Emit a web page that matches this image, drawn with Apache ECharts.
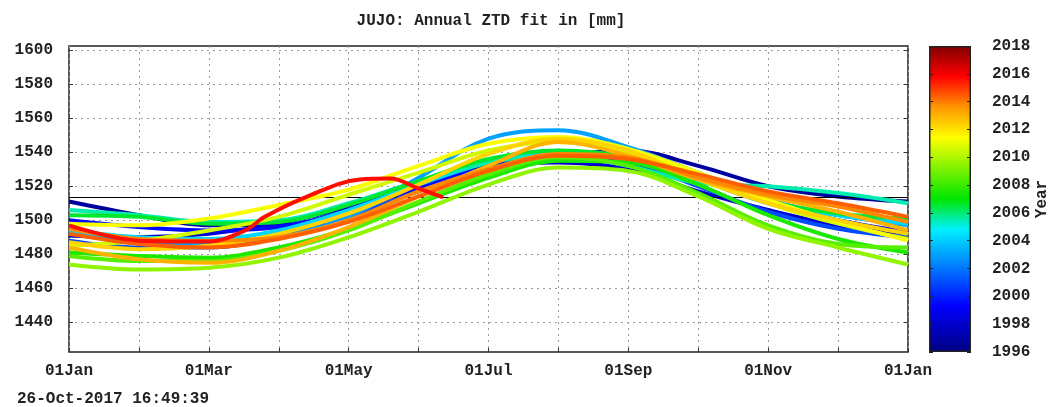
<!DOCTYPE html>
<html>
<head>
<meta charset="utf-8">
<script src="https://cdn.jsdelivr.net/npm/echarts@6/dist/echarts.min.js"></script>
<style>
  html, body { margin: 0; padding: 0; background: #fff; }
  #chart { width: 1051px; height: 407px; }
</style>
</head>
<body>
<div id="chart"></div>
<script>
// x axis: months of the year (0 = 01Jan ... 12 = 01Jan next year)
const monthLabels = ['01Jan', '01Feb', '01Mar', '01Apr', '01May', '01Jun', '01Jul',
  '01Aug', '01Sep', '01Oct', '01Nov', '01Dec', '01Jan'];
const yTicks = [1440, 1460, 1480, 1500, 1520, 1540, 1560, 1580, 1600];
const yearTicks = [1996, 1998, 2000, 2002, 2004, 2006, 2008, 2010, 2012, 2014, 2016, 2018];
const meanZtd = 1513.5;

// annual fits, one value per first-of-month
const ztd1997 = [1511, 1503, 1497, 1497, 1506, 1520, 1532, 1538, 1541, 1532, 1520, 1514, 1511];
const ztd1998 = [1491, 1490, 1492, 1498, 1508, 1522, 1533, 1534, 1530, 1517, 1506, 1497, 1492];
const ztd1999 = [1500, 1496, 1494, 1496, 1505, 1519, 1531, 1537, 1536, 1524, 1510, 1500, 1493];
const ztd2001 = [1488, 1484, 1484, 1490, 1502, 1517, 1530, 1537, 1534, 1520, 1505, 1495, 1490];
const ztd2003 = [1493, 1488, 1486, 1490, 1502, 1525, 1548, 1553, 1543, 1528, 1512, 1503, 1497];
const ztd2004 = [1494, 1490, 1489, 1494, 1506, 1521, 1534, 1540, 1537, 1524, 1510, 1503, 1498];
const ztd2005 = [1506, 1503, 1499, 1500, 1510, 1523, 1534, 1538, 1532, 1522, 1520, 1516, 1510];
const ztd2006 = [1503, 1502, 1498, 1499, 1509, 1523, 1536, 1541, 1537, 1524, 1511, 1504, 1501];
const ztd2007 = [1481, 1479, 1478, 1484, 1495, 1510, 1525, 1535, 1534, 1521, 1503, 1489, 1481];
const ztd2008 = [1479, 1476, 1476, 1482, 1494, 1511, 1527, 1537, 1532, 1516, 1497, 1486, 1484];
const ztd2009 = [1474, 1471, 1472, 1478, 1490, 1505, 1521, 1531, 1529, 1514, 1495, 1484, 1474];
const ztd2010 = [1485, 1488, 1494, 1502, 1515, 1528, 1541, 1546, 1540, 1526, 1510, 1498, 1489];
const ztd2011 = [1498, 1497, 1501, 1509, 1518, 1532, 1545, 1549, 1542, 1528, 1512, 1499, 1488];
const ztd2012 = [1487, 1483, 1485, 1492, 1504, 1521, 1539, 1548, 1541, 1524, 1510, 1500, 1492];
const ztd2013 = [1484, 1477, 1475, 1482, 1496, 1514, 1532, 1546, 1538, 1524, 1514, 1505, 1494];
const ztd2014 = [1495, 1489, 1488, 1490, 1500, 1517, 1530, 1539, 1537, 1525, 1515, 1508, 1499];
const ztd2015 = [1492, 1486, 1484, 1489, 1499, 1514, 1529, 1538, 1536, 1527, 1517, 1510, 1502];
// 2017 is only partial (until mid June)
const months2017 = [0, 1, 2, 2.52, 2.8, 3.38, 4.16, 4.6, 4.98, 5.35];
const ztd2017 = [1497, 1488, 1487.5, 1494, 1502, 1513.5, 1524, 1524.5, 1519, 1513.5];

const fits = [
  { year: 1996.8, values: ztd1997 },
  { year: 1998.0, values: ztd1998 },
  { year: 1999.5, values: ztd1999 },
  { year: 2001.0, values: ztd2001 },
  { year: 2003.0, values: ztd2003 },
  { year: 2004.2, values: ztd2004 },
  { year: 2005.5, values: ztd2005 },
  { year: 2006.6, values: ztd2006 },
  { year: 2007.5, values: ztd2007 },
  { year: 2008.5, values: ztd2008 },
  { year: 2009.5, values: ztd2009 },
  { year: 2010.6, values: ztd2010 },
  { year: 2011.3, values: ztd2011 },
  { year: 2012.3, values: ztd2012 },
  { year: 2013.0, values: ztd2013 },
  { year: 2013.8, values: ztd2014 },
  { year: 2014.4, values: ztd2015 },
];
const year2017 = 2015.6;

// jet-like colour scale used for the Year colour bar
const jetStops = [
  [0.00, [0, 0, 128]],
  [0.15, [0, 0, 255]],
  [0.40, [0, 240, 255]],
  [0.50, [0, 230, 0]],
  [0.70, [255, 255, 0]],
  [0.80, [255, 150, 0]],
  [0.90, [255, 0, 0]],
  [1.00, [128, 0, 0]],
];
const rgb = (c) => 'rgb(' + c.join(',') + ')';
function jet(t) {
  t = Math.max(0, Math.min(1, t));
  for (let i = 1; i < jetStops.length; i++) {
    const [t1, c1] = jetStops[i];
    const [t0, c0] = jetStops[i - 1];
    if (t <= t1) {
      const f = (t - t0) / (t1 - t0);
      return rgb(c0.map((v, k) => Math.round(v + (c1[k] - v) * f)));
    }
  }
  return rgb(jetStops[jetStops.length - 1][1]);
}
const yearMin = 1996, yearMax = 2018;
const yearColor = (y) => jet((y - yearMin) / (yearMax - yearMin));

const monoFont = 'Liberation Mono';
const textStyle = { fontFamily: monoFont, fontSize: 16, fontWeight: 'bold', color: '#222' };

const series = fits.map((f, i) => ({
  type: 'line',
  data: f.values.map((v, m) => [m, v]),
  smooth: 0.35,
  showSymbol: false,
  silent: true,
  z: 2 + i,
  lineStyle: { width: 4, color: yearColor(f.year), cap: 'butt' },
}));
series.push({
  type: 'line',
  data: months2017.map((m, i) => [m, ztd2017[i]]),
  smooth: 0.35,
  showSymbol: false,
  silent: true,
  z: 30,
  lineStyle: { width: 4, color: yearColor(year2017) },
});
// mean line
series.push({
  type: 'line',
  data: [],
  silent: true,
  z: 40,
  markLine: {
    silent: true,
    symbol: 'none',
    label: { show: false },
    lineStyle: { color: '#000', width: 1, type: 'solid' },
    data: [{ yAxis: meanZtd }],
  },
});
// colour bar: transparent base up to yearMin, gradient bar up to yearMax
series.push({
  type: 'bar', xAxisIndex: 1, yAxisIndex: 2, stack: 'cbar', barWidth: '100%', silent: true,
  data: [yearMin], itemStyle: { color: 'transparent' },
});
series.push({
  type: 'bar', xAxisIndex: 1, yAxisIndex: 2, stack: 'cbar', barWidth: '100%', silent: true,
  data: [yearMax - yearMin],
  itemStyle: {
    borderColor: '#222', borderWidth: 1.5,
    color: new echarts.graphic.LinearGradient(0, 1, 0, 0,
      jetStops.map(([t, c]) => ({ offset: t, color: rgb(c) }))),
  },
});

const chart = echarts.init(document.getElementById('chart'));
chart.setOption({
  animation: false,
  backgroundColor: '#fff',
  title: [
    {
      text: 'JUJO: Annual ZTD fit in [mm]',
      left: 486, top: 8, textAlign: 'center',
      textStyle: { ...textStyle },
    },
    {
      text: '26-Oct-2017 16:49:39',
      left: 12, top: 386,
      textStyle: { ...textStyle },
    },
  ],
  grid: [
    { left: 69, right: 143, top: 46, bottom: 55, show: true, borderColor: '#222', borderWidth: 1.5, outerBoundsMode: 'none' },
    { left: 929, width: 42, top: 46, bottom: 55, show: false, outerBoundsMode: 'none' },
  ],
  xAxis: [
    {
      type: 'value', gridIndex: 0, min: 0, max: 12, interval: 1,
      axisLine: { show: false },
      axisTick: { show: true, inside: true, length: 4, lineStyle: { color: '#333' } },
      axisLabel: {
        ...textStyle, margin: 11,
        formatter: (v) => (v % 2 === 0 ? monthLabels[v] : ''),
      },
      splitLine: { show: true, lineStyle: { color: '#999', type: [2, 4], width: 1 } },
    },
    {
      type: 'category', gridIndex: 1, data: ['Year'], show: false,
    },
  ],
  yAxis: [
    {
      type: 'value', gridIndex: 0, min: 1422.5, max: 1602.5,
      axisLine: { show: false },
      axisTick: { show: true, inside: true, length: 4, customValues: yTicks, lineStyle: { color: '#333' } },
      axisLabel: { ...textStyle, margin: 16, customValues: yTicks, formatter: (v) => String(v) },
      splitLine: { show: true, lineStyle: { color: '#999', type: [2, 4], width: 1 } },
    },
    {
      type: 'value', gridIndex: 0, min: 1422.5, max: 1602.5, position: 'right',
      axisLine: { show: false },
      axisTick: { show: true, inside: true, length: 4, customValues: yTicks, lineStyle: { color: '#333' } },
      axisLabel: { show: false },
      splitLine: { show: false },
    },
    {
      type: 'value', gridIndex: 1, min: yearMin, max: yearMax, position: 'right',
      name: 'Year', nameLocation: 'middle', nameGap: 62, nameRotate: 90,
      nameTextStyle: { ...textStyle },
      axisLine: { show: false },
      axisTick: { show: true, inside: true, length: 4, customValues: yearTicks, lineStyle: { color: '#222' } },
      axisLabel: { ...textStyle, margin: 21, customValues: yearTicks, formatter: (v) => String(v) },
      splitLine: { show: false },
      z: 10,
    },
    {
      type: 'value', gridIndex: 1, min: yearMin, max: yearMax, position: 'left',
      axisLine: { show: false },
      axisTick: { show: true, inside: true, length: 4, customValues: yearTicks, lineStyle: { color: '#222' } },
      axisLabel: { show: false },
      splitLine: { show: false },
      z: 10,
    },
  ],
  series: series,
});
</script>
</body>
</html>
